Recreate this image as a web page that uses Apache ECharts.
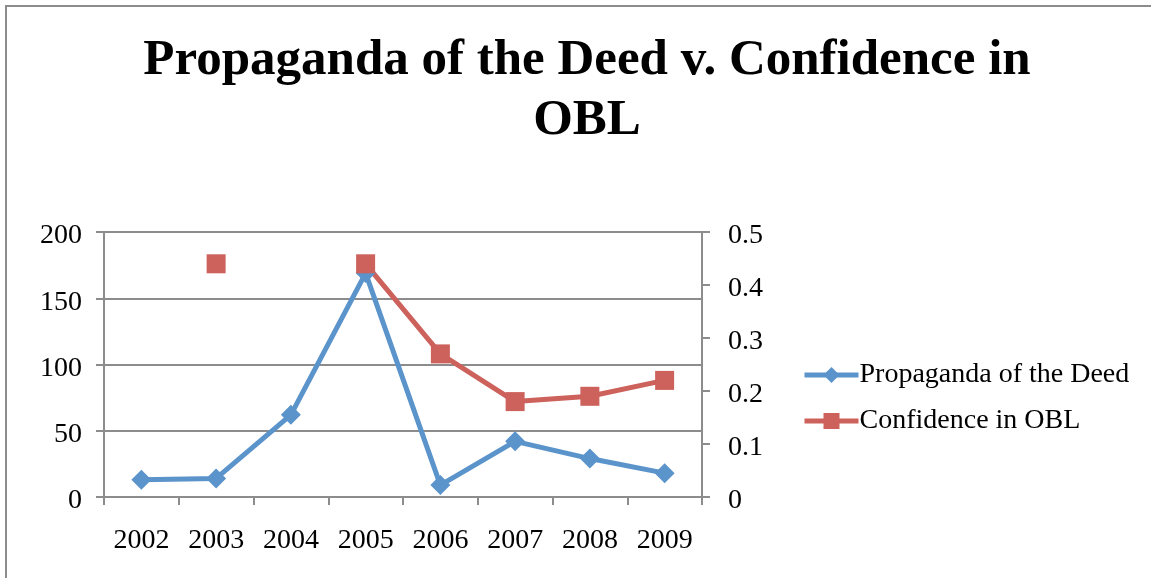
<!DOCTYPE html>
<html><head><meta charset="utf-8">
<script src="https://cdn.jsdelivr.net/npm/echarts@6/dist/echarts.min.js"></script>
<style>html,body{margin:0;padding:0;background:#fff}#c{width:1151px;height:578px}</style>
</head><body><div id="c"></div>
<script>
const years = ['2002','2003','2004','2005','2006','2007','2008','2009'];
const propaganda = [13, 14, 62, 169, 9, 42, 29, 18];
const confidence = [null, 0.44, null, 0.44, 0.27, 0.18, 0.19, 0.22];
const leftTicks = {min: 0, max: 200, interval: 50};
const rightTicks = {min: 0, max: 0.5, interval: 0.1};

const FONT = '"Liberation Serif", "DejaVu Serif", serif';
const GRAY = '#8c8c8c';
const BLUE = '#5B93CB';
const RED = '#CD615B';
const chart = echarts.init(document.getElementById('c'), null, {renderer: 'canvas'});
chart.setOption({
  animation: false,
  backgroundColor: '#fff',
  graphic: [{type: 'rect', shape: {x: 6, y: 6, width: 1300, height: 700}, style: {fill: 'none', stroke: GRAY, lineWidth: 2}, silent: true}],
  title: {
    text: 'Propaganda of the Deed v. Confidence in\nOBL',
    left: 582, top: 26, textAlign: 'center',
    textStyle: {fontFamily: FONT, fontWeight: 'bold', fontSize: 51, lineHeight: 60, color: '#000'}
  },
  legend: {
    orient: 'vertical', left: 802, top: 361, padding: 0, itemWidth: 54, itemHeight: 20, itemGap: 18,
    lineStyle: {width: 5},
    textStyle: {fontFamily: FONT, fontSize: 28, color: '#000', padding: [0, 0, 0, -4]},
    data: ['Propaganda of the Deed', 'Confidence in OBL']
  },
  grid: {left: 104, right: 449, top: 232, bottom: 81, containLabel: false},
  xAxis: {
    type: 'category', data: years, boundaryGap: true,
    axisLine: {lineStyle: {color: GRAY, width: 2}},
    axisTick: {show: true, length: 8, lineStyle: {color: GRAY, width: 2}},
    axisLabel: {fontFamily: FONT, fontSize: 28, color: '#000', margin: 30}
  },
  yAxis: [{
    type: 'value', position: 'left', min: leftTicks.min, max: leftTicks.max, interval: leftTicks.interval,
    axisLine: {show: true, lineStyle: {color: GRAY, width: 2}},
    axisTick: {show: true, length: 8, lineStyle: {color: GRAY, width: 2}},
    splitLine: {show: true, lineStyle: {color: GRAY, width: 2}},
    axisLabel: {fontFamily: FONT, fontSize: 28, color: '#000', margin: 22, verticalAlign: 'top', lineHeight: 8}
  }, {
    type: 'value', position: 'right', min: rightTicks.min, max: rightTicks.max, interval: rightTicks.interval,
    axisLine: {show: true, lineStyle: {color: GRAY, width: 2}},
    axisTick: {show: true, length: 8, lineStyle: {color: GRAY, width: 2}},
    splitLine: {show: false},
    axisLabel: {fontFamily: FONT, fontSize: 28, color: '#000', margin: 26, verticalAlign: 'top', lineHeight: 8}
  }],
  series: [{
    name: 'Propaganda of the Deed', type: 'line', yAxisIndex: 0, data: propaganda,
    symbol: 'diamond', symbolSize: 20, showAllSymbol: true,
    lineStyle: {color: BLUE, width: 5}, itemStyle: {color: BLUE}
  }, {
    name: 'Confidence in OBL', type: 'line', yAxisIndex: 1, data: confidence,
    symbol: 'rect', symbolSize: 19, showAllSymbol: true, connectNulls: false,
    lineStyle: {color: RED, width: 5}, itemStyle: {color: RED}
  }]
});
</script></body></html>
